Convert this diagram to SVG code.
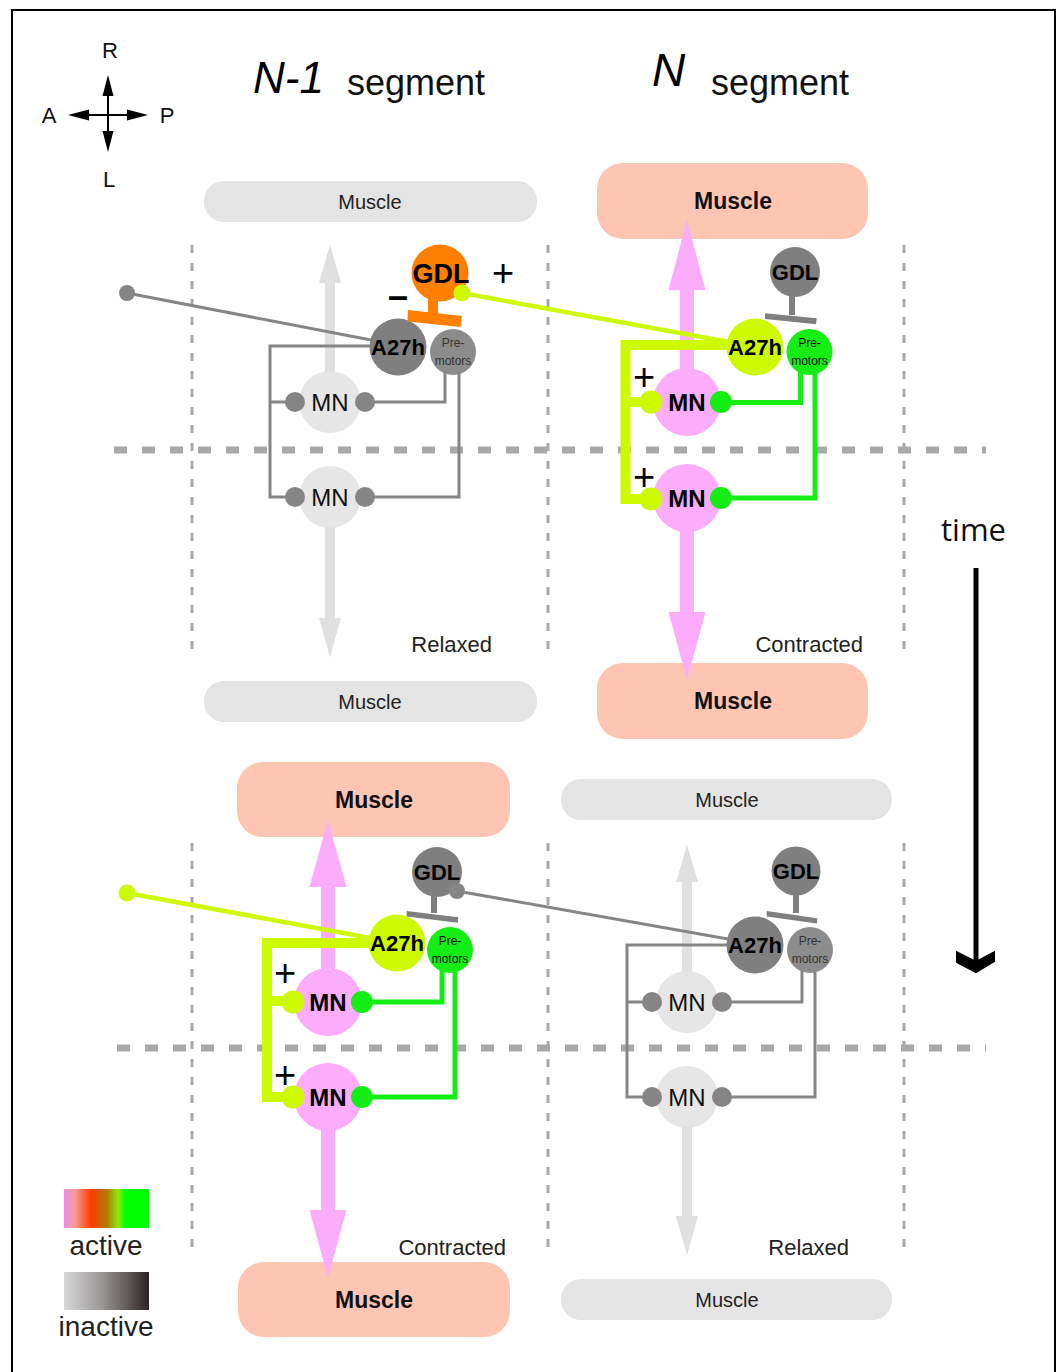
<svg xmlns="http://www.w3.org/2000/svg" width="1059" height="1372" viewBox="0 0 1059 1372">
<defs>
<linearGradient id="gActive" x1="0" y1="0" x2="1" y2="0">
<stop offset="0" stop-color="#EE8AEA"/>
<stop offset="0.12" stop-color="#F3A09A"/>
<stop offset="0.32" stop-color="#FF3A00"/>
<stop offset="0.5" stop-color="#B07A00"/>
<stop offset="0.64" stop-color="#8CEB10"/>
<stop offset="0.72" stop-color="#00FF00"/>
<stop offset="1" stop-color="#00FF00"/>
</linearGradient>
<linearGradient id="gInactive" x1="0" y1="0" x2="1" y2="0">
<stop offset="0" stop-color="#D8D8D8"/>
<stop offset="0.45" stop-color="#9A9696"/>
<stop offset="1" stop-color="#2C2424"/>
</linearGradient>
</defs>
<style>
.t{font-family:"Liberation Sans",Arial,sans-serif}
.vd{stroke:#A8A8A8;stroke-width:3;stroke-dasharray:8 10;fill:none}
.hd{stroke:#A8A8A8;stroke-width:7;stroke-dasharray:13 15;fill:none}
.mg{fill:#E4E4E4}
.ms{fill:#FDC5B2}
.mgt{font-size:20px;fill:#222;text-anchor:middle}
.mst{font-size:23px;font-weight:bold;fill:#111;text-anchor:middle}
.mni{fill:#E6E6E6}
.mna{fill:#FBADFB}
.mnti{font-size:24px;fill:#111;text-anchor:middle}
.mnta{font-size:24px;font-weight:bold;fill:#000;text-anchor:middle}
.dk{fill:#7F7F7F}
.pg{fill:#8C8C8C}
.yg{fill:#CDFA00}
.gr{fill:#14EE14}
.or{fill:#FF7F00}
.a27{font-size:22px;font-weight:bold;fill:#000;text-anchor:middle}
.gdl{font-size:22px;font-weight:bold;fill:#000;text-anchor:middle}
.pm{font-size:12px;text-anchor:middle}
.wg{stroke:#858585;stroke-width:3;fill:none}
.wy{stroke:#CDFA00;stroke-width:10;fill:none;stroke-linejoin:miter}
.wgr{stroke:#14EE14;stroke-width:5;fill:none}
.ai{fill:#E0E0E0}
.ap{fill:#FBADFB}
.st{font-size:22px;fill:#222}
.sign{font-size:38px;fill:#000;text-anchor:middle}
</style>

<path d="M12,1372 V10 H1055 V1372" fill="none" stroke="#000" stroke-width="2"/>

<g id="grid">
<path class="vd" d="M192,245 V658 M548,245 V658 M904,245 V658"/>
<path class="vd" d="M192,843 V1256 M548,843 V1256 M904,843 V1256"/>
<path class="hd" d="M114,450 H986"/>
<path class="hd" d="M117,1048 H986"/>
</g>

<!-- Muscles -->
<g id="tl-muscle-top"><rect class="mg" x="204" y="181" width="333" height="41" rx="20"/><text class="t mgt" x="370" y="208.5">Muscle</text></g>
<g id="tl-muscle-bottom"><rect class="mg" x="204" y="681" width="333" height="41" rx="20"/><text class="t mgt" x="370" y="708.5">Muscle</text></g>
<g id="tr-muscle-top"><rect class="ms" x="597" y="163" width="271" height="76" rx="26"/><text class="t mst" x="733" y="209">Muscle</text></g>
<g id="tr-muscle-bottom"><rect class="ms" x="597" y="663" width="271" height="76" rx="26"/><text class="t mst" x="733" y="709">Muscle</text></g>
<g id="bl-muscle-top"><rect class="ms" x="237" y="762" width="273" height="75" rx="26"/><text class="t mst" x="374" y="808">Muscle</text></g>
<g id="bl-muscle-bottom"><rect class="ms" x="238" y="1262" width="272" height="75" rx="26"/><text class="t mst" x="374" y="1308">Muscle</text></g>
<g id="br-muscle-top"><rect class="mg" x="561" y="779" width="331" height="41" rx="20"/><text class="t mgt" x="727" y="806.5">Muscle</text></g>
<g id="br-muscle-bottom"><rect class="mg" x="561" y="1279" width="331" height="41" rx="20"/><text class="t mgt" x="727" y="1306.5">Muscle</text></g>

<!-- Top-left (N-1, relaxed) nodes -->
<g id="tl-mn-top"><circle class="mni" cx="330" cy="402" r="31"/><text class="t mnti" x="330" y="410.6">MN</text></g>
<g id="tl-mn-bottom"><circle class="mni" cx="330" cy="497" r="31"/><text class="t mnti" x="330" y="505.6">MN</text></g>
<g id="tl-a27h"><circle class="dk" cx="398" cy="347" r="28.5"/><text class="t a27" x="398" y="355">A27h</text></g>
<g id="tl-premotors"><circle class="pg" cx="453" cy="352" r="23"/><text class="t pm" x="453" y="347" fill="#333">Pre-</text><text class="t pm" x="453" y="365" fill="#333">motors</text></g>
<g id="tl-gdl"><circle class="or" cx="440" cy="273" r="28.5"/><text class="t" x="441" y="283" font-size="27" font-weight="bold" text-anchor="middle" fill="#000">GDL</text></g>

<!-- Top-right (N, contracted) nodes -->
<g id="tr-mn-top"><circle class="mna" cx="687" cy="402" r="34"/><text class="t mnta" x="687" y="410.6">MN</text></g>
<g id="tr-mn-bottom"><circle class="mna" cx="687" cy="498" r="34"/><text class="t mnta" x="687" y="506.6">MN</text></g>
<g id="tr-a27h"><circle class="yg" cx="755" cy="347" r="28.5"/><text class="t a27" x="755" y="355">A27h</text></g>
<g id="tr-premotors"><circle class="gr" cx="809.5" cy="352" r="23"/><text class="t pm" x="809.5" y="347" fill="#111">Pre-</text><text class="t pm" x="809.5" y="365" fill="#111">motors</text></g>
<g id="tr-gdl"><circle class="dk" cx="795" cy="272" r="25"/><text class="t gdl" x="795" y="280">GDL</text></g>

<!-- Bottom-left (N-1, contracted) nodes -->
<g id="bl-mn-top"><circle class="mna" cx="328" cy="1002" r="34"/><text class="t mnta" x="328" y="1010.6">MN</text></g>
<g id="bl-mn-bottom"><circle class="mna" cx="328" cy="1097" r="34"/><text class="t mnta" x="328" y="1105.6">MN</text></g>
<g id="bl-a27h"><circle class="yg" cx="397" cy="943" r="28.5"/><text class="t a27" x="397" y="951">A27h</text></g>
<g id="bl-premotors"><circle class="gr" cx="450" cy="950" r="23"/><text class="t pm" x="450" y="945" fill="#111">Pre-</text><text class="t pm" x="450" y="963" fill="#111">motors</text></g>
<g id="bl-gdl"><circle class="dk" cx="437" cy="872" r="25"/><text class="t gdl" x="437" y="880">GDL</text></g>

<!-- Bottom-right (N, relaxed) nodes -->
<g id="br-mn-top"><circle class="mni" cx="687" cy="1002" r="31"/><text class="t mnti" x="687" y="1010.6">MN</text></g>
<g id="br-mn-bottom"><circle class="mni" cx="687" cy="1097" r="31"/><text class="t mnti" x="687" y="1105.6">MN</text></g>
<g id="br-a27h"><circle class="dk" cx="755" cy="945" r="28.5"/><text class="t a27" x="755" y="953">A27h</text></g>
<g id="br-premotors"><circle class="pg" cx="810" cy="950" r="23"/><text class="t pm" x="810" y="945" fill="#333">Pre-</text><text class="t pm" x="810" y="963" fill="#333">motors</text></g>
<g id="br-gdl"><circle class="dk" cx="796" cy="871" r="24.5"/><text class="t gdl" x="796" y="879">GDL</text></g>

<g id="connectors">
<!-- muscle arrows -->
<rect class="ai" x="325" y="281" width="10" height="91"/><polygon class="ai" points="330,245 341,283 319,283"/>
<rect class="ai" x="325" y="527" width="10" height="93"/><polygon class="ai" points="319,618 341,618 330,657"/>
<rect class="ap" x="680" y="288" width="14" height="81"/><polygon class="ap" points="687,220 705.5,290 668.5,290"/>
<rect class="ap" x="680" y="530" width="14" height="84"/><polygon class="ap" points="668.5,612 705.5,612 687,680"/>
<rect class="ap" x="321" y="885" width="14" height="85"/><polygon class="ap" points="328,820 346.5,887 309.5,887"/>
<rect class="ap" x="321" y="1129" width="14" height="83"/><polygon class="ap" points="309.5,1210 346.5,1210 328,1278"/>
<rect class="ai" x="682" y="880" width="10" height="92"/><polygon class="ai" points="687,845 698,882 676,882"/>
<rect class="ai" x="682" y="1126" width="10" height="92"/><polygon class="ai" points="676,1216 698,1216 687,1255"/>

<!-- long-range lines -->
<line x1="127" y1="293" x2="371" y2="340" stroke="#858585" stroke-width="3"/>
<line x1="462" y1="293" x2="729" y2="342" stroke="#CDFA00" stroke-width="4.5"/>
<line x1="127" y1="893" x2="370" y2="938" stroke="#CDFA00" stroke-width="4.5"/>
<line x1="457" y1="891" x2="728" y2="939" stroke="#858585" stroke-width="3"/>

<!-- top-left wiring -->
<path class="wg" d="M371,346 H270 V497 H295 M270,402 H295"/>
<path class="wg" d="M365,402 H445 V372 M459,372 V497 H365"/>
<!-- top-right wiring -->
<path class="wy" d="M729,345 H625.5 V499 H651 M625.5,402 H651"/>
<path class="wgr" d="M721,402.5 H800.5 V372 M815,372 V498 H721"/>
<!-- bottom-left wiring -->
<path class="wy" d="M371,943 H267 V1097 H293 M267,1001 H293"/>
<path class="wgr" d="M362,1002 H442 V970 M455,970 V1097 H362"/>
<!-- bottom-right wiring -->
<path class="wg" d="M728,945 H627 V1097 H652 M627,1002 H652"/>
<path class="wg" d="M722,1002 H802 V970 M815,970 V1097 H722"/>

<!-- GDL inhibitory T-bars -->
<rect class="or" x="428" y="298" width="10" height="16"/>
<polygon class="or" points="408,310 462,316 460.5,327 407.5,321.5"/>
<rect class="dk" x="789" y="296" width="6" height="19"/>
<polygon class="dk" points="765,313.3 816.7,318.3 816,324.3 765,319"/>
<rect class="dk" x="431" y="896" width="6" height="17"/>
<polygon class="dk" points="406.7,911 458.3,917.3 457.7,922.7 406.7,916.5"/>
<rect class="dk" x="793" y="895" width="6" height="18"/>
<polygon class="dk" points="766.7,911 817.3,918.3 817,923.5 766.7,916.5"/>

<!-- synapse dots -->
<circle cx="127" cy="293" r="8" fill="#858585"/>
<circle cx="462" cy="293" r="8.5" fill="#CDFA00"/>
<circle cx="127" cy="893" r="8.5" fill="#CDFA00"/>
<circle cx="457" cy="891" r="8" fill="#858585"/>
<g fill="#858585">
<circle cx="295" cy="402" r="10"/><circle cx="365" cy="402" r="10"/>
<circle cx="295" cy="497" r="10"/><circle cx="365" cy="497" r="10"/>
<circle cx="652" cy="1002" r="10"/><circle cx="722" cy="1002" r="10"/>
<circle cx="652" cy="1097" r="10"/><circle cx="722" cy="1097" r="10"/>
</g>
<g fill="#CDFA00">
<circle cx="651" cy="402" r="11.5"/><circle cx="651" cy="499" r="11.5"/>
<circle cx="293" cy="1002" r="11.5"/><circle cx="293" cy="1097" r="11.5"/>
</g>
<g fill="#14EE14">
<circle cx="721" cy="402" r="11"/><circle cx="721" cy="498" r="11"/>
<circle cx="362" cy="1002" r="11"/><circle cx="362" cy="1097" r="11"/>
</g>
</g>

<!-- signs -->
<g id="signs">
<text class="t" x="398" y="308" font-size="36" font-weight="bold" text-anchor="middle" fill="#000">–</text>
<text class="t sign" x="503" y="286">+</text>
<text class="t sign" x="644" y="390">+</text>
<text class="t sign" x="644" y="490">+</text>
<text class="t sign" x="285" y="986">+</text>
<text class="t sign" x="285" y="1088">+</text>
</g>

<!-- state labels -->
<g id="state-labels">
<text class="t st" x="492" y="652" text-anchor="end">Relaxed</text>
<text class="t st" x="863" y="652" text-anchor="end">Contracted</text>
<text class="t st" x="506" y="1255" text-anchor="end">Contracted</text>
<text class="t st" x="849" y="1255" text-anchor="end">Relaxed</text>
</g>

<!-- titles -->
<g id="titles">
<text class="t" x="253" y="93" font-size="44" font-style="italic" fill="#000">N-1</text>
<text class="t" x="347" y="95" font-size="36" fill="#111">segment</text>
<text class="t" x="652" y="86" font-size="46" font-style="italic" fill="#000">N</text>
<text class="t" x="711" y="95" font-size="36" fill="#111">segment</text>
</g>

<!-- compass -->
<g id="compass">
<line x1="108" y1="90" x2="108" y2="138" stroke="#000" stroke-width="2"/>
<line x1="85" y1="115" x2="131" y2="115" stroke="#000" stroke-width="2"/>
<polygon points="108,75 113.5,96 102.5,96" fill="#000"/>
<polygon points="108,152 113.5,131 102.5,131" fill="#000"/>
<polygon points="68,115 89,109.5 89,120.5" fill="#000"/>
<polygon points="148,115 127,109.5 127,120.5" fill="#000"/>
<text class="t" x="110" y="58" font-size="22" text-anchor="middle" fill="#111">R</text>
<text class="t" x="109" y="187" font-size="22" text-anchor="middle" fill="#111">L</text>
<text class="t" x="49" y="123" font-size="22" text-anchor="middle" fill="#111">A</text>
<text class="t" x="167" y="123" font-size="22" text-anchor="middle" fill="#111">P</text>
</g>

<!-- time -->
<g id="time">
<text x="941" y="541" font-family="'Open Sans','Liberation Sans',sans-serif" font-size="31" fill="#111">time</text>
<line x1="976" y1="568" x2="976" y2="962" stroke="#000" stroke-width="5"/>
<polygon points="956,950.7 976,960.7 995,950.7 995,961.7 976,973.3 956,962.7" fill="#000"/>
</g>

<!-- legend -->
<g id="legend">
<rect x="64" y="1189" width="85" height="39" fill="url(#gActive)"/>
<text class="t" x="106" y="1255" font-size="28" text-anchor="middle" fill="#222">active</text>
<rect x="64" y="1272" width="85" height="38" fill="url(#gInactive)"/>
<text class="t" x="106" y="1336" font-size="28" text-anchor="middle" fill="#222">inactive</text>
</g>
</svg>
